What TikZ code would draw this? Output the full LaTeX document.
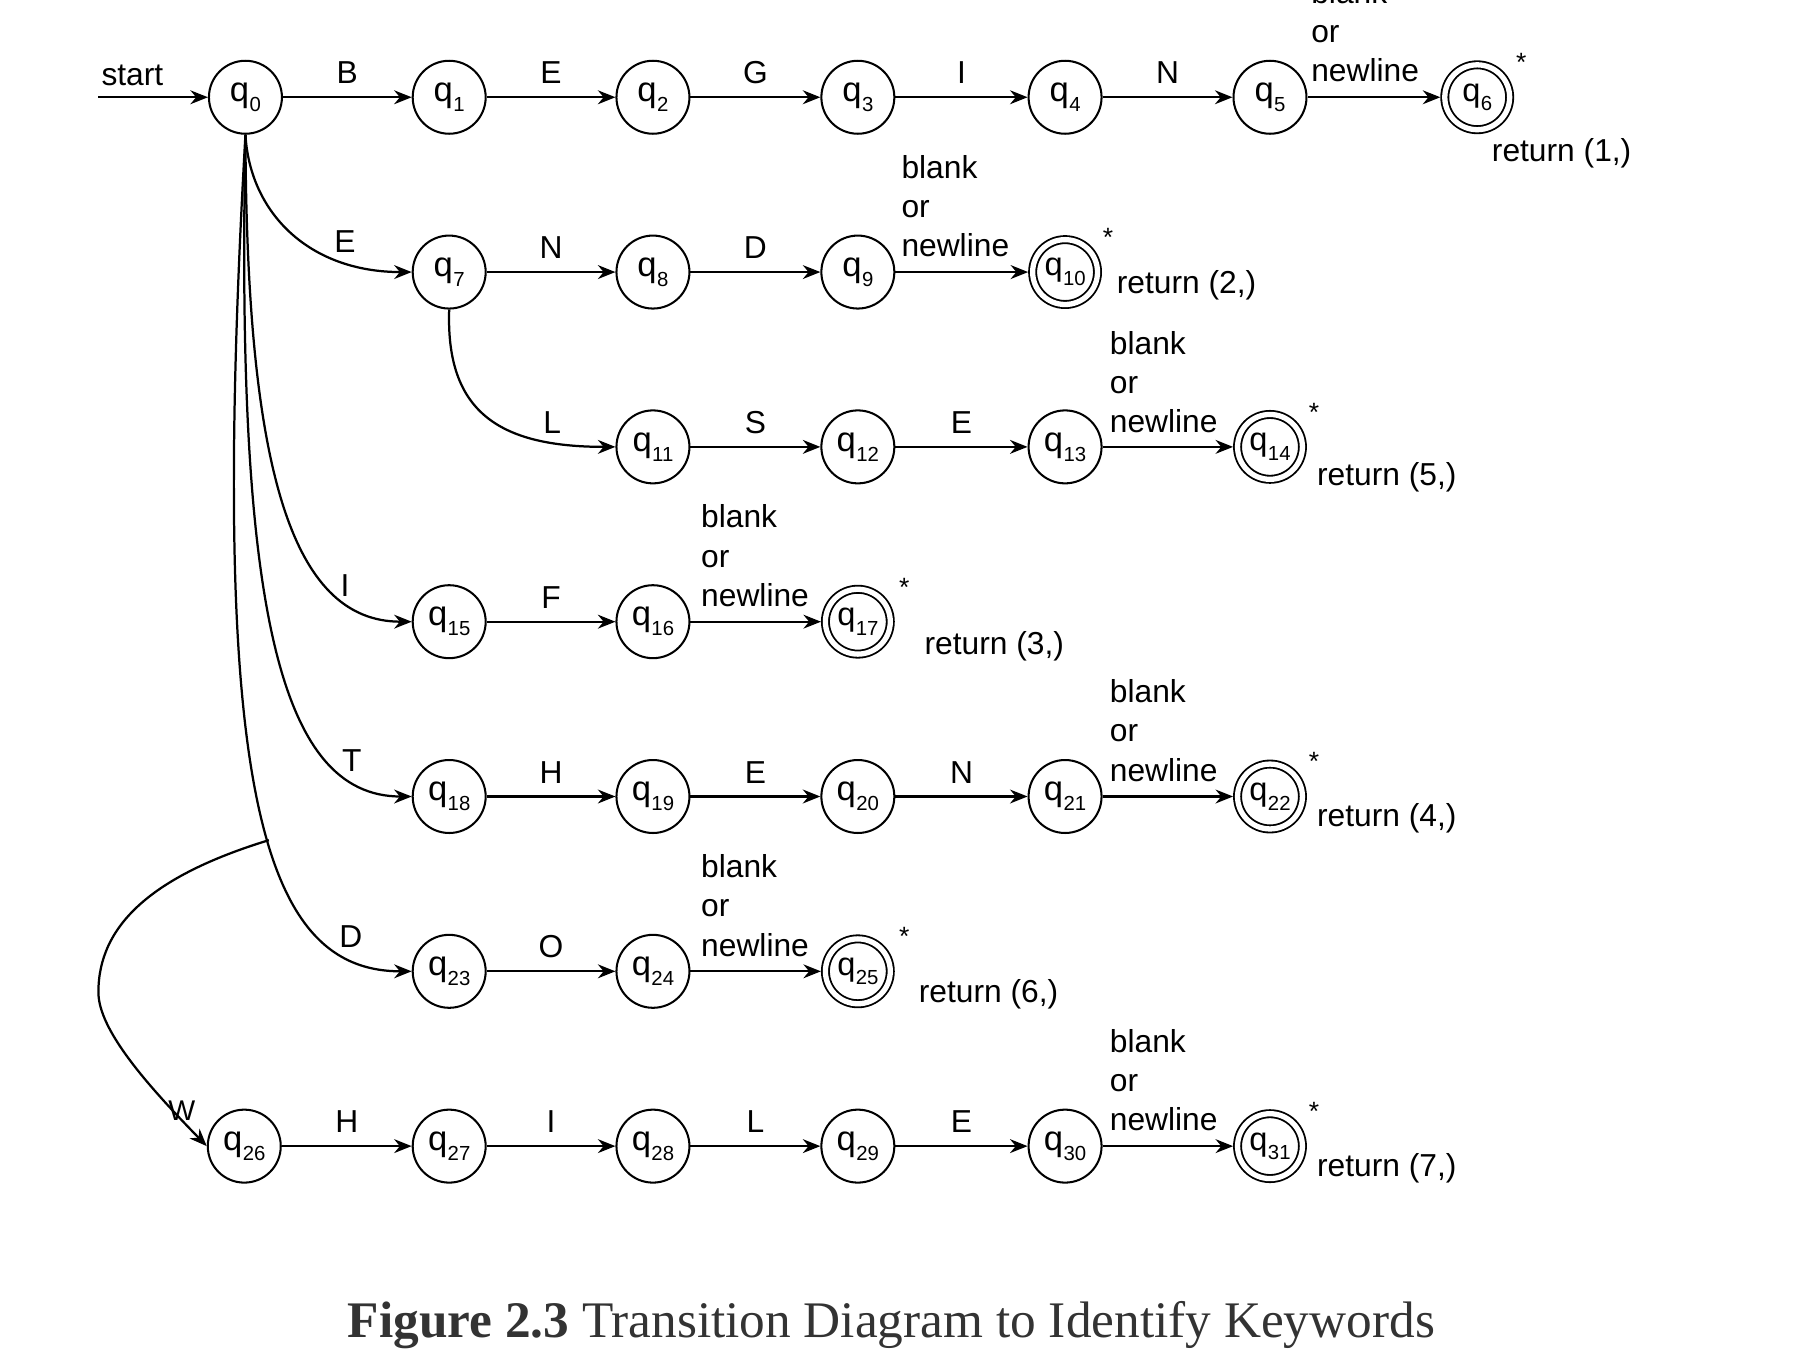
\documentclass[tikz,border=0pt]{standalone}
\usepackage{fontspec}
\setmainfont{Liberation Sans}
\newfontfamily\capfont{Liberation Serif}
\usetikzlibrary{arrows.meta,calc}
\newcommand\qs[1]{q\kern0.1pt\raisebox{-0.55ex}{\fontsize{5}{5}\selectfont #1}}
\begin{document}
\begin{tikzpicture}[x=0.01cm,y=-0.01cm,
  every node/.style={font=\fontsize{7.8}{9.67}\selectfont},
  st/.style={circle,draw,line width=0.5pt,minimum size=0.63cm,inner sep=0pt,font=\fontsize{8.5}{9}\selectfont},
  acc/.style={circle,draw,line width=0.45pt,double,double distance=1.3pt,minimum size=0.56cm,inner sep=0pt,outer sep=1.1pt,font=\fontsize{8}{9}\selectfont},
  tr/.style={line width=0.55pt,-{Stealth[length=4.3pt,width=3.4pt]}},
  lab/.style={anchor=south,inner sep=0pt,yshift=0.105cm},
  clab/.style={inner sep=0pt},
  bl/.style={anchor=west,inner sep=0pt,align=left},
  ret/.style={anchor=west,inner sep=0pt},
  ast/.style={inner sep=0pt,font=\fontsize{6.5}{7}\selectfont},
]
\fill[white] (0,0) rectangle (1560,1169.6);
\useasboundingbox (0,0) rectangle (1560,1169.6);

% row 0
\node[st] (q0) at (212,84) {\qs{0}};
\node[st] (q1) at (388,84) {\qs{1}};
\node[st] (q2) at (564,84) {\qs{2}};
\node[st] (q3) at (741,84) {\qs{3}};
\node[st] (q4) at (920,84) {\qs{4}};
\node[st] (q5) at (1097,84) {\qs{5}};
\node[acc] (q6) at (1276,84) {\qs{6}};
% row 1
\node[st] (q7) at (388,235) {\qs{7}};
\node[st] (q8) at (564,235) {\qs{8}};
\node[st] (q9) at (741,235) {\qs{9}};
\node[acc] (q10) at (920,235) {\qs{10}};
% row 2
\node[st] (q11) at (564,386) {\qs{11}};
\node[st] (q12) at (741,386) {\qs{12}};
\node[st] (q13) at (920,386) {\qs{13}};
\node[acc] (q14) at (1097,386) {\qs{14}};
% row 3
\node[st] (q15) at (388,537) {\qs{15}};
\node[st] (q16) at (564,537) {\qs{16}};
\node[acc] (q17) at (741,537) {\qs{17}};
% row 4
\node[st] (q18) at (388,688) {\qs{18}};
\node[st] (q19) at (564,688) {\qs{19}};
\node[st] (q20) at (741,688) {\qs{20}};
\node[st] (q21) at (920,688) {\qs{21}};
\node[acc] (q22) at (1097,688) {\qs{22}};
% row 5
\node[st] (q23) at (388,839) {\qs{23}};
\node[st] (q24) at (564,839) {\qs{24}};
\node[acc] (q25) at (741,839) {\qs{25}};
% row 6
\node[st] (q26) at (211,990) {\qs{26}};
\node[st] (q27) at (388,990) {\qs{27}};
\node[st] (q28) at (564,990) {\qs{28}};
\node[st] (q29) at (741,990) {\qs{29}};
\node[st] (q30) at (920,990) {\qs{30}};
\node[acc] (q31) at (1097,990) {\qs{31}};

% start
\coordinate (s0) at (85,84);
\draw[tr] (s0) -- (q0);
\node[anchor=south west,inner sep=0pt] (startlab) at (87,75) {start};

% straight transitions
\draw[tr] (q0) -- node[lab]{B} (q1);
\draw[tr] (q1) -- node[lab]{E} (q2);
\draw[tr] (q2) -- node[lab]{G} (q3);
\draw[tr] (q3) -- node[lab]{I} (q4);
\draw[tr] (q4) -- node[lab]{N} (q5);
\draw[tr] (q5) -- (q6);

\draw[tr] (q7) -- node[lab]{N} (q8);
\draw[tr] (q8) -- node[lab]{D} (q9);
\draw[tr] (q9) -- (q10);

\draw[tr] (q11) -- node[lab]{S} (q12);
\draw[tr] (q12) -- node[lab]{E} (q13);
\draw[tr] (q13) -- (q14);

\draw[tr] (q15) -- node[lab]{F} (q16);
\draw[tr] (q16) -- (q17);

\draw[tr] (q18) -- node[lab]{H} (q19);
\draw[tr] (q19) -- node[lab]{E} (q20);
\draw[tr] (q20) -- node[lab]{N} (q21);
\draw[tr] (q21) -- (q22);

\draw[tr] (q23) -- node[lab]{O} (q24);
\draw[tr] (q24) -- (q25);

\draw[tr] (q26) -- node[lab]{H} (q27);
\draw[tr] (q27) -- node[lab]{I} (q28);
\draw[tr] (q28) -- node[lab]{L} (q29);
\draw[tr] (q29) -- node[lab]{E} (q30);
\draw[tr] (q30) -- (q31);

% curved transitions
\draw[tr] (q0.south) .. controls (216,185) and (268,235) .. (q7.west);
\draw[tr] (q0.south) .. controls (213,400) and (250,537) .. (q15.west);
\draw[tr] (q0.south) .. controls (204,520) and (240,688) .. (q18.west);
\draw[tr] (q0.south) .. controls (180,680) and (225,839) .. (q23.west) coordinate[pos=0.56] (wb);
\draw[tr] (wb) .. controls (130,757) and (85,800) .. (85,857) .. controls (85,890) and (128,938) .. (q26.west);
\draw[tr] (q7.south) .. controls (385,355) and (430,386) .. (q11.west);

\node[clab] (lE) at (298,209) {E};
\node[clab] (lL) at (477,365) {L};
\node[clab] (lI) at (298,506) {I};
\node[clab] (lT) at (304,657) {T};
\node[clab] (lD) at (303,809) {D};
\node[clab,font=\fontsize{7}{8}\selectfont] (lW) at (157,959) {W};

% blank or newline labels
\node[bl] (b6)  at ($(q5)+(35,-57)$)  {blank\\or\\newline};
\node[bl] (b10) at ($(q9)+(37,-57)$)  {blank\\or\\newline};
\node[bl] (b14) at ($(q13)+(38,-56)$) {blank\\or\\newline};
\node[bl] (b17) at ($(q16)+(41,-57)$) {blank\\or\\newline};
\node[bl] (b22) at ($(q21)+(38,-57)$) {blank\\or\\newline};
\node[bl] (b25) at ($(q24)+(41,-57)$) {blank\\or\\newline};
\node[bl] (b31) at ($(q30)+(38,-57)$) {blank\\or\\newline};

% stars
\node[ast] (a6)  at ($(q6)+(38,-30)$)  {*};
\node[ast] (a10) at ($(q10)+(37,-30)$) {*};
\node[ast] (a14) at ($(q14)+(38,-30)$) {*};
\node[ast] (a17) at ($(q17)+(40,-30)$) {*};
\node[ast] (a22) at ($(q22)+(38,-30)$) {*};
\node[ast] (a25) at ($(q25)+(40,-30)$) {*};
\node[ast] (a31) at ($(q31)+(38,-30)$) {*};

% return labels
\node[ret] (r6)  at (1288,132) {return (1,)};
\node[ret] (r10) at (964,246)  {return (2,)};
\node[ret] (r14) at (1137,412) {return (5,)};
\node[ret] (r17) at (798,558)  {return (3,)};
\node[ret] (r22) at (1137,707) {return (4,)};
\node[ret] (r25) at (793,859)  {return (6,)};
\node[ret] (r31) at (1137,1009) {return (7,)};

% caption
\node[font=\capfont\fontsize{12.6}{14}\selectfont,text=black!80,inner sep=0pt] (cap) at (770,1145)
  {\textbf{Figure 2.3} Transition Diagram to Identify Keywords};
\end{tikzpicture}
\end{document}
